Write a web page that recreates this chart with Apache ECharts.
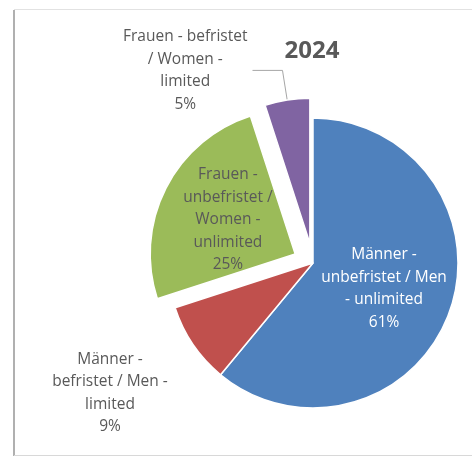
<!DOCTYPE html>
<html>
<head>
<meta charset="utf-8">
<script src="https://cdn.jsdelivr.net/npm/echarts@6/dist/echarts.min.js"></script>
<style>
  html, body { margin: 0; padding: 0; background: #fff; }
  #chart { width: 472px; height: 457px; }
</style>
</head>
<body>
<div id="chart"></div>
<script>
const categories = [
  'Männer - unbefristet / Men - unlimited',
  'Männer - befristet / Men - limited',
  'Frauen - unbefristet / Women - unlimited',
  'Frauen - befristet / Women - limited'
]
const labelLines = [
  ['Männer -', 'unbefristet / Men', '- unlimited'],
  ['Männer -', 'befristet / Men -', 'limited'],
  ['Frauen -', 'unbefristet /', 'Women -', 'unlimited'],
  ['Frauen - befristet', '/ Women -', 'limited']
]
const values = [61, 9, 25, 5]
const exploded = [false, false, true, true]
const colors = ['#4f81bd', '#c0504d', '#9bbb59', '#8064a2']

const chart = echarts.init(document.getElementById('chart'))

const font = 'Open Sans, sans-serif'

function labelRich(color) {
  return {
    c: { align: 'center', fontFamily: font, fontSize: 15.5, lineHeight: 22.5, color: color }
  }
}

const data = values.map((v, i) => ({
  name: categories[i],
  value: v,
  selected: exploded[i],
  itemStyle: { color: colors[i] },
  select: { itemStyle: { color: colors[i] } },
  label: {
    position: (i === 0 || i === 2) ? 'inside' : 'outside',
    rich: labelRich(i === 0 ? '#ffffff' : '#595959'),
    formatter: () => labelLines[i].concat(v + '%').map(s => '{c|' + s + '}').join('\n')
  },
  labelLine: i === 3
    ? { show: true, length: 30, length2: 30 }
    : { show: false }
}))

chart.setOption({
  backgroundColor: '#ffffff',
  animation: false,
  title: {
    text: '2024',
    left: 307,
    top: 34,
    textAlign: 'center',
    textStyle: {
      fontFamily: font,
      fontSize: 24,
      fontWeight: 'bold',
      color: '#595959'
    }
  },
  graphic: [
    {
      type: 'line',
      shape: { x1: 14, y1: 10, x2: 14, y2: 456 },
      style: { stroke: '#b0b0b0', lineWidth: 2 }
    },
    {
      type: 'line',
      shape: { x1: 14, y1: 9.5, x2: 472, y2: 9.5 },
      style: { stroke: '#e2e2e2', lineWidth: 1 }
    },
    {
      type: 'line',
      shape: { x1: 14, y1: 455.5, x2: 472, y2: 455.5 },
      style: { stroke: '#d8d8d8', lineWidth: 1 }
    }
  ],
  series: [
    {
      type: 'pie',
      center: [313, 263],
      radius: 145,
      startAngle: 90,
      clockwise: true,
      selectedMode: 'multiple',
      selectedOffset: 20,
      avoidLabelOverlap: false,
      itemStyle: { borderColor: '#ffffff', borderWidth: 1.5 },
      emphasis: { disabled: true },
      label: { fontFamily: font, fontSize: 15.5, lineHeight: 22.5 },
      labelLine: {
        lineStyle: { color: '#a6a6a6', width: 1 }
      },
      // the red label sits freely below-left of its slice, without a line
      labelLayout: (params) => {
        if (params.dataIndex !== 1) return {}
        return { x: 110, y: 393, align: 'center', verticalAlign: 'middle' }
      },
      data: data
    }
  ]
})
</script>
</body>
</html>
